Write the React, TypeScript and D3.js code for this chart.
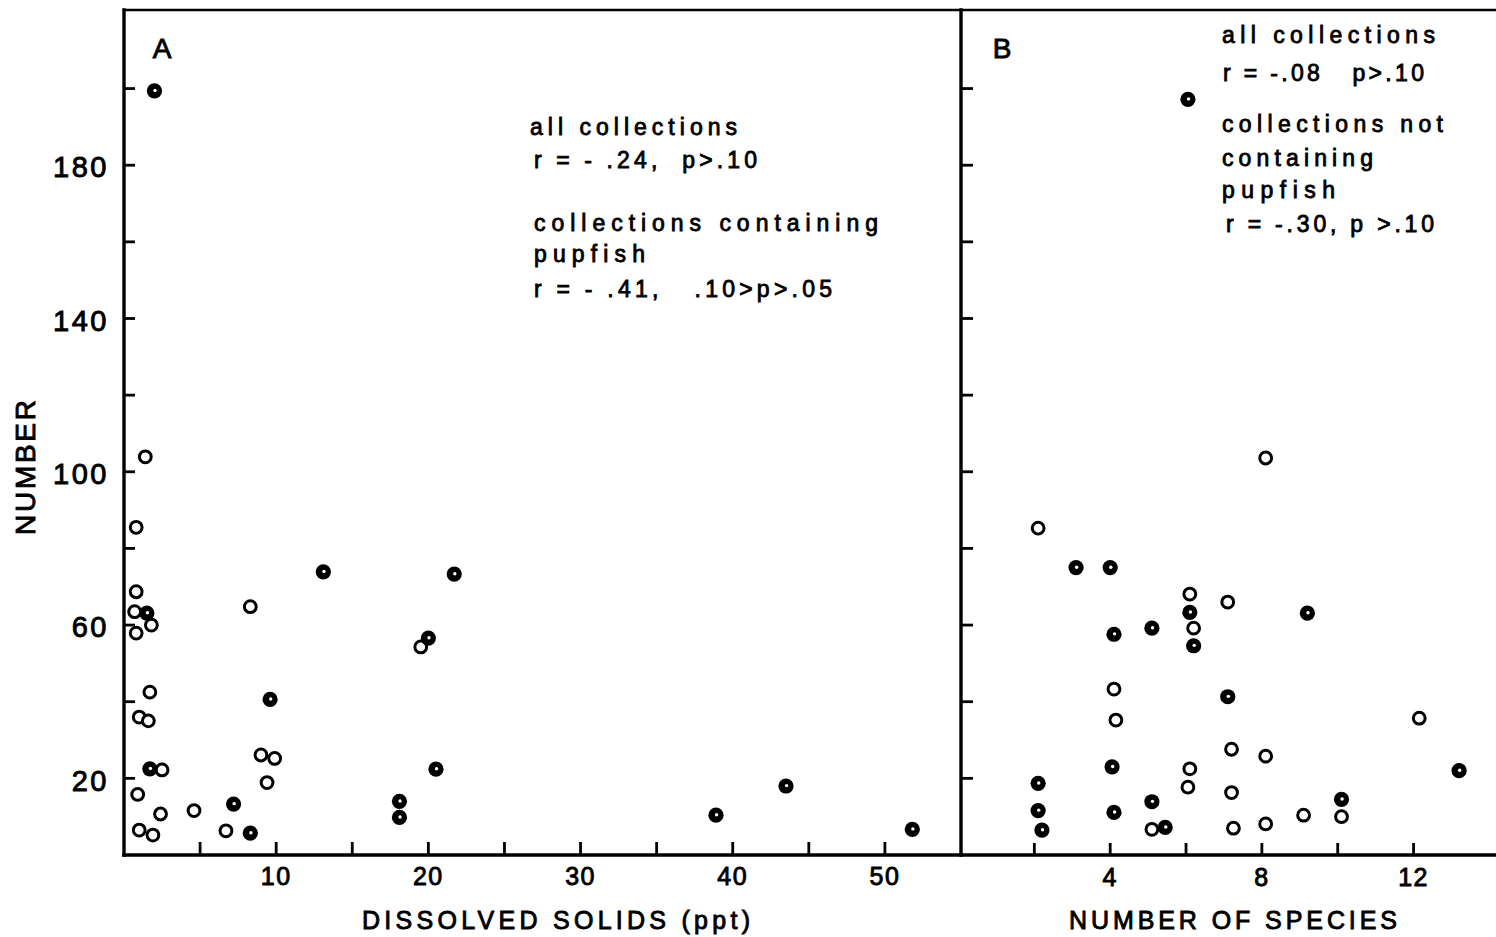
import React from "react";
import * as d3 from "d3";

// Panel A: dissolved solids (ppt) against number of fish per collection
const solidsPpt = [2.0, 1.4, 0.8, 0.8, 0.7, 1.8, 1.5, 0.8, 1.7, 1.0, 1.6, 2.5, 1.7, 0.9, 2.4, 1.0, 1.9, 4.6, 6.7, 7.2, 8.3, 8.3, 9.6, 9.0, 9.9, 9.4, 13.1, 21.7, 19.5, 20.0, 20.5, 18.1, 18.1, 38.9, 43.5, 51.8];
const solidsNumber = [199.4, 103.9, 85.5, 68.7, 63.5, 60.0, 63.1, 57.9, 42.5, 36.0, 35.0, 22.2, 22.5, 15.8, 10.7, 6.5, 5.2, 11.6, 6.3, 13.3, 5.7, 64.8, 40.6, 26.1, 25.2, 18.9, 73.9, 73.3, 54.3, 56.6, 22.4, 14.0, 9.8, 10.4, 18.0, 6.7];
const solidsFilled = [1, 0, 0, 0, 0, 0, 1, 0, 0, 0, 0, 0, 1, 0, 0, 0, 0, 0, 0, 1, 1, 0, 1, 0, 0, 0, 1, 1, 0, 1, 1, 1, 1, 1, 1, 1];

// Panel B: number of species against number of fish per collection
const speciesCount = [2.1, 3.1, 4.0, 6.1, 6.1, 6.2, 6.2, 5.1, 4.1, 7.1, 4.1, 4.15, 4.05, 2.1, 2.1, 2.2, 4.1, 5.1, 5.1, 5.45, 6.1, 6.05, 7.1, 7.2, 7.2, 7.25, 8.1, 8.1, 9.1, 9.2, 10.1, 10.1, 12.15, 13.2, 6.05, 8.1];
const speciesNumber = [85.3, 75.0, 75.0, 68.1, 63.3, 59.2, 54.6, 59.2, 57.6, 66.0, 43.3, 35.2, 23.0, 18.7, 11.6, 6.5, 11.1, 13.9, 6.7, 7.2, 22.5, 17.7, 41.3, 27.6, 16.3, 7.0, 25.8, 8.1, 10.4, 63.1, 14.5, 10.0, 35.7, 22.0, 197.2, 103.6];
const speciesFilled = [0, 1, 1, 0, 1, 0, 1, 1, 1, 0, 0, 0, 1, 1, 1, 1, 1, 1, 0, 1, 0, 0, 1, 0, 0, 0, 0, 0, 0, 1, 1, 0, 0, 1, 1, 0];

// Axis ticks and labels
const yTicks = [20, 40, 60, 80, 100, 120, 140, 160, 180, 200];
const yLabels = [20, 60, 100, 140, 180];
const solidsTicks = [5, 10, 15, 20, 25, 30, 35, 40, 45, 50];
const solidsLabels = [10, 20, 30, 40, 50];
const speciesTicks = [2, 4, 6, 8, 10, 12];
const speciesLabels = [4, 8, 12];

// Correlation notes
const notesA = ["all collections", "r = - .24,  p>.10", "collections containing", "pupfish", "r = - .41,   .10>p>.05"];
const notesB = ["all collections", "r = -.08   p>.10", "collections not", "containing", "pupfish", "r = -.30, p >.10"];

const FONT = "'Liberation Sans', Arial, sans-serif";

function Marker({ cx, cy, filled }: { cx: number; cy: number; filled: boolean }) {
  if (filled) {
    return (
      <g>
        <circle cx={cx} cy={cy} r={7.6} fill="#000" />
        <circle cx={cx + 0.6} cy={cy - 0.4} r={1.7} fill="#fff" />
      </g>
    );
  }
  return <circle cx={cx} cy={cy} r={5.9} fill="#fff" stroke="#000" strokeWidth={3} />;
}

export default function App() {
  const W = 1496;
  const H = 937;
  const xA = d3.scaleLinear().domain([0, 55]).range([124, 961]);
  const xB = d3.scaleLinear().domain([0, 14.2]).range([958.5, 1497]);
  const y = d3.scaleLinear().domain([0, 220.5]).range([855, 10]);

  const y0 = y(0);
  const yTop = y(220.5);
  const leftA = xA(0);
  const leftB = xA(55);

  const textStyle: React.CSSProperties = { whiteSpace: "pre" };

  const noteLayoutA = [
    { x: 530, y: 135, len: 207 },
    { x: 534, y: 168, len: 223 },
    { x: 534, y: 231, len: 344 },
    { x: 534, y: 262, len: 111 },
    { x: 534, y: 297, len: 298 },
  ];
  const noteLayoutB = [
    { x: 1222, y: 43, len: 213 },
    { x: 1223, y: 81, len: 201 },
    { x: 1222, y: 132, len: 221 },
    { x: 1222, y: 166, len: 151 },
    { x: 1222, y: 198, len: 113 },
    { x: 1226, y: 232, len: 208 },
  ];

  return (
    <svg
      width={W}
      height={H}
      viewBox={`0 0 ${W} ${H}`}
      style={{ position: "absolute", left: 0, top: 0, display: "block", background: "#fff" }}
      fontFamily={FONT}
    >
      <rect x={0} y={0} width={W} height={H} fill="#fff" />

      {/* frame: top border, two vertical axes, bottom axis */}
      <g stroke="#000" strokeLinecap="square">
        <line x1={leftA} y1={yTop} x2={W} y2={yTop} strokeWidth={2.6} />
        <line x1={leftA} y1={yTop} x2={leftA} y2={y0} strokeWidth={3.4} />
        <line x1={leftB} y1={yTop} x2={leftB} y2={y0} strokeWidth={3.4} />
        <line x1={leftA} y1={y0} x2={W} y2={y0} strokeWidth={3.4} />
      </g>

      {/* ticks, pointing into the plotting area */}
      <g stroke="#000" strokeWidth={2.8}>
        {yTicks.map((t) => (
          <line key={"ya" + t} x1={leftA} x2={leftA + 11} y1={y(t)} y2={y(t)} />
        ))}
        {yTicks.map((t) => (
          <line key={"yb" + t} x1={leftB} x2={leftB + 12} y1={y(t)} y2={y(t)} />
        ))}
        {solidsTicks.map((t) => (
          <line key={"xa" + t} x1={xA(t)} x2={xA(t)} y1={y0} y2={y0 - 13} />
        ))}
        {speciesTicks.map((t) => (
          <line key={"xb" + t} x1={xB(t)} x2={xB(t)} y1={y0} y2={y0 - 12} />
        ))}
      </g>

      {/* tick labels */}
      <g fill="#000" stroke="#000" strokeWidth={0.9}>
        {yLabels.map((t) => (
          <text key={"yl" + t} x={109} y={y(t) + 2} dy="0.35em" textAnchor="end" fontSize={29} letterSpacing={2.5}>
            {t}
          </text>
        ))}
        {solidsLabels.map((t) => (
          <text key={"xla" + t} x={xA(t)} y={876} dy="0.35em" textAnchor="middle" fontSize={25} letterSpacing={1.5}>
            {t}
          </text>
        ))}
        {speciesLabels.map((t) => (
          <text key={"xlb" + t} x={xB(t)} y={877} dy="0.35em" textAnchor="middle" fontSize={25} letterSpacing={1.5}>
            {t}
          </text>
        ))}
      </g>

      {/* axis titles */}
      <g fill="#000" stroke="#000" strokeWidth={0.9} fontSize={25}>
        <text x={362} y={929} textLength={388} lengthAdjust="spacing" style={textStyle}>
          DISSOLVED SOLIDS (ppt)
        </text>
        <text x={1069} y={929} textLength={328} lengthAdjust="spacing" style={textStyle}>
          NUMBER OF SPECIES
        </text>
        <text
          transform={`translate(35, 535) rotate(-90)`}
          x={0}
          y={0}
          textLength={135}
          lengthAdjust="spacing"
          fontSize={28}
        >
          NUMBER
        </text>
      </g>

      {/* panel letters */}
      <g fill="#000" stroke="#000" strokeWidth={0.9} fontSize={28}>
        <text x={162} y={58} textAnchor="middle">A</text>
        <text x={1002} y={58} textAnchor="middle">B</text>
      </g>

      {/* correlation notes */}
      <g fill="#000" stroke="#000" strokeWidth={0.85} fontSize={23}>
        {notesA.map((s, i) => (
          <text key={"na" + i} x={noteLayoutA[i].x} y={noteLayoutA[i].y} textLength={noteLayoutA[i].len} lengthAdjust="spacing" style={textStyle}>
            {s}
          </text>
        ))}
        {notesB.map((s, i) => (
          <text key={"nb" + i} x={noteLayoutB[i].x} y={noteLayoutB[i].y} textLength={noteLayoutB[i].len} lengthAdjust="spacing" style={textStyle}>
            {s}
          </text>
        ))}
      </g>

      {/* panel A points */}
      <g>
        {solidsPpt.map((v, i) => (
          <Marker key={"pa" + i} cx={xA(v)} cy={y(solidsNumber[i])} filled={solidsFilled[i] === 1} />
        ))}
      </g>

      {/* panel B points */}
      <g>
        {speciesCount.map((v, i) => (
          <Marker key={"pb" + i} cx={xB(v)} cy={y(speciesNumber[i])} filled={speciesFilled[i] === 1} />
        ))}
      </g>
    </svg>
  );
}
